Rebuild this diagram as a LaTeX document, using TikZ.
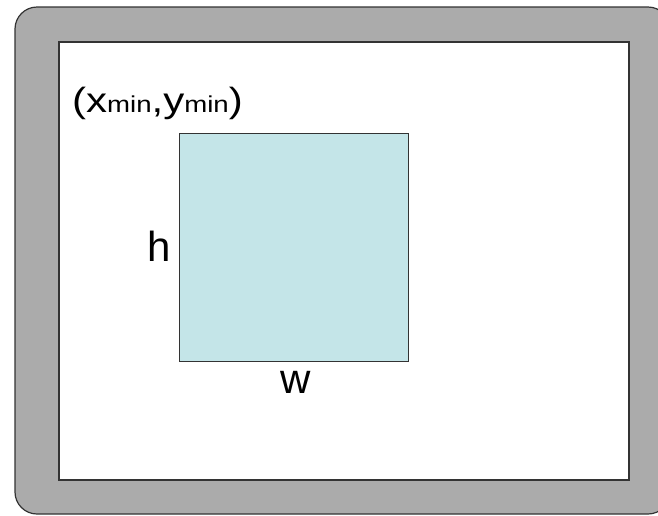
\documentclass[tikz,border=0pt]{standalone}
\usepackage{fontspec}
\setmainfont{Liberation Sans}
\definecolor{framegray}{HTML}{ABABAB}
\definecolor{boxblue}{HTML}{C4E5E8}
\definecolor{edgegray}{HTML}{333333}
\begin{document}
\begin{tikzpicture}[x=1pt,y=-1pt]
  \useasboundingbox (0,0) rectangle (658,515);

  % frame and screen
  \draw[edgegray, line width=1.2pt, fill=framegray, rounded corners=22pt] (15,7) rectangle (670,514);
  \draw[edgegray, line width=1.5pt, fill=white] (59,42) rectangle (629,480);

  \begin{scope}[every node/.style={font=\fontsize{42}{50}\selectfont, inner sep=0pt}]
    \node[draw=edgegray, line width=1pt, fill=boxblue, minimum width=229pt, minimum height=228pt] (box) at (293.5,247) {};
    \node[anchor=base east] (h) at (171,261) {h};
    \node[anchor=base] (w) at (296,393) {w};
    \node[anchor=base west, xscale=1.2, transform shape] (corner) at (72,112) {\fontsize{35}{40}\selectfont(x{\fontsize{23}{26}\selectfont min},y{\fontsize{23}{26}\selectfont min})};
  \end{scope}
\end{tikzpicture}
\end{document}
